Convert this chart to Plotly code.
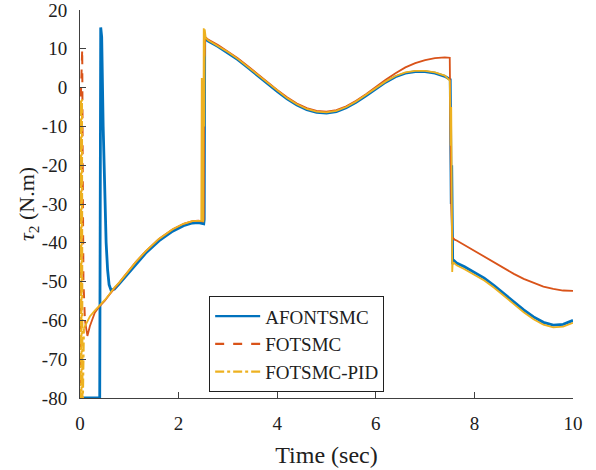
import plotly.graph_objects as go

# ---------------- data ----------------
t_afontsmc = [0, 0.40, 0.42, 0.44, 0.47, 0.50, 0.53, 0.56, 0.59, 0.63,
              0.70, 0.80, 0.90, 1.00, 1.13, 1.33, 1.60, 1.88, 2.10, 2.28, 2.40,
              2.49, 2.51, 2.52, 2.53, 2.56, 2.60, 2.80, 3.00, 3.20, 3.40, 3.60,
              3.80, 4.00, 4.20, 4.40, 4.60, 4.80, 5.00, 5.20, 5.40, 5.60,
              5.80, 6.00, 6.20, 6.40, 6.60, 6.80, 7.00, 7.20, 7.40, 7.51,
              7.53, 7.54, 7.55, 7.56, 7.58, 7.64, 7.80, 8.00, 8.20, 8.40,
              8.60, 8.80, 9.00, 9.20, 9.40, 9.60, 9.80, 10.0]
y_afontsmc = [-80, -80, 15.5, 13, -10, -30, -40, -47, -50.8, -52.2,
              -51.9, -50.5, -49.0, -47.5, -45.5, -42.7, -39.5, -37.0, -35.6, -34.9, -34.8,
              -35.0, -35.1, -34, 13, 12.4, 12.0, 10.6, 9.0, 7.2, 5.2, 3.1,
              1.0, -1.0, -2.9, -4.5, -5.7, -6.4, -6.6, -6.2, -5.2, -3.8,
              -2.1, -0.3, 1.4, 2.8, 3.7, 4.1, 4.1, 3.7, 2.9, 2.1,
              -30, -20, -44, -45.5, -44.5, -45.2, -46.2, -47.6, -49.1, -51.0,
              -53.0, -55.2, -57.3, -59.1, -60.5, -61.2, -61.0, -60.0]

t_fotsmc = [0, 0.005, 0.015, 0.02, 0.03, 0.045, 0.055, 0.07, 0.10, 0.15,
            0.20, 0.25, 0.30, 0.40, 0.50, 0.60, 0.70, 0.80, 0.90, 1.00, 1.13,
            1.33, 1.60, 1.88, 2.10, 2.28, 2.40, 2.49, 2.51, 2.52, 2.53,
            2.54, 2.57, 2.60, 2.80, 3.00, 3.20, 3.40, 3.60, 3.80, 4.00,
            4.20, 4.40, 4.60, 4.80, 5.00, 5.20, 5.40, 5.60, 5.80, 6.00,
            6.20, 6.40, 6.60, 6.80, 7.00, 7.20, 7.40, 7.50, 7.51, 7.52,
            7.53, 7.55, 7.57, 7.60, 7.64, 7.80, 8.00, 8.20, 8.40, 8.60,
            8.80, 9.00, 9.20, 9.40, 9.60, 9.80, 10.0]
y_fotsmc = [0, -80, -80, -1, 10, 10, -20, -50, -60, -64,
            -61.5, -59.5, -58, -56.3, -55, -53.3, -51.6, -50.2, -48.6, -47.0, -45.0,
            -42.2, -39.0, -36.5, -35.1, -34.4, -34.3, -34.5, -34, 14, 8,
            13, 12.6, 12.4, 11.0, 9.4, 7.6, 5.6, 3.5, 1.4, -0.6,
            -2.5, -4.1, -5.3, -6.0, -6.2, -5.8, -4.8, -3.4, -1.7, 0.2,
            2.0, 3.7, 5.2, 6.3, 7.1, 7.6, 7.8, 7.7, -15, -5,
            -30, -38.5, -38.8, -39.2, -39.4, -40.6, -42.0, -43.5, -45.0, -46.6,
            -48.0, -49.3, -50.4, -51.3, -51.9, -52.3, -52.4]

t_pid = [0, 0.005, 0.012, 0.02, 0.03, 0.04, 0.05, 0.06, 0.08, 0.20,
         0.30, 0.40, 0.50, 0.60, 0.70, 0.80, 0.90, 1.00, 1.13, 1.33, 1.60,
         1.88, 2.10, 2.28, 2.40, 2.46, 2.47, 2.48, 2.50, 2.51, 2.52,
         2.53, 2.55, 2.60, 2.80, 3.00, 3.20, 3.40, 3.60, 3.80, 4.00,
         4.20, 4.40, 4.60, 4.80, 5.00, 5.20, 5.40, 5.60, 5.80, 6.00,
         6.20, 6.40, 6.60, 6.80, 7.00, 7.20, 7.40, 7.50, 7.52, 7.53,
         7.55, 7.56, 7.58, 7.64, 7.80, 8.00, 8.20, 8.40, 8.60, 8.80,
         9.00, 9.20, 9.40, 9.60, 9.80, 10.0]
y_pid = [-80, -3, -80, -3, -80, -3, -80, -80, -62, -59,
         -57.5, -56.2, -54.8, -53.2, -51.5, -50.2, -48.6, -47.0, -45.0, -42.2, -39.0,
         -36.5, -35.1, -34.4, -34.3, -34.3, 2.5, -34.3, -34.4, 15.3, -10,
         15, 12.8, 12.2, 10.8, 9.2, 7.4, 5.4, 3.3, 1.2, -0.8,
         -2.7, -4.3, -5.5, -6.2, -6.4, -6.0, -5.0, -3.6, -1.9, -0.1,
         1.6, 3.0, 3.9, 4.3, 4.3, 3.9, 3.1, 1.8, -15, -5,
         -47.5, -45, -45.1, -45.8, -46.8, -48.2, -49.7, -51.6, -53.6, -55.8,
         -57.9, -59.7, -61.1, -61.8, -61.6, -60.6]

names = ["AFONTSMC", "FOTSMC", "FOTSMC-PID"]
x_ticks = [0, 2, 4, 6, 8, 10]
y_ticks = [-80, -70, -60, -50, -40, -30, -20, -10, 0, 10, 20]

C_BLUE = "#0072BD"
C_ORANGE = "#D95319"
C_YELLOW = "#EDB120"
FONT = "Liberation Serif"
TXT = "#202020"

fig = go.Figure()

fig.add_trace(go.Scatter(x=t_afontsmc, y=y_afontsmc, mode="lines",
                         line=dict(color=C_BLUE, width=2.8), showlegend=False))
n_o = 9
fig.add_trace(go.Scatter(x=t_fotsmc[:n_o], y=y_fotsmc[:n_o], mode="lines",
                         line=dict(color=C_ORANGE, width=2, dash="dash"), showlegend=False))
fig.add_trace(go.Scatter(x=t_fotsmc[n_o - 1:], y=y_fotsmc[n_o - 1:], mode="lines",
                         line=dict(color=C_ORANGE, width=1.8), showlegend=False))
n_y = 9
fig.add_trace(go.Scatter(x=t_pid[:n_y], y=y_pid[:n_y], mode="lines",
                         line=dict(color=C_YELLOW, width=2, dash="dashdot"), showlegend=False))
fig.add_trace(go.Scatter(x=t_pid[n_y - 1:], y=y_pid[n_y - 1:], mode="lines",
                         line=dict(color=C_YELLOW, width=1.8), showlegend=False))

for nm, col, dsh in zip(names, [C_BLUE, C_ORANGE, C_YELLOW], ["solid", "dash", "dashdot"]):
    fig.add_trace(go.Scatter(x=[None], y=[None], mode="lines", name=nm,
                             line=dict(color=col, width=2.2, dash=dsh)))

axis_common = dict(showgrid=False, zeroline=False, showline=True, linecolor="#404040",
                   linewidth=1, ticks="inside", ticklen=6, tickcolor="#404040",
                   mirror=False, ticklabeloverflow="allow", ticklabelstandoff=8,
                   automargin=False,
                   tickfont=dict(family=FONT, size=19, color=TXT))

fig.update_xaxes(range=[0, 10], tickvals=x_ticks, ticktext=[str(v) for v in x_ticks],
                 title=dict(text="Time (sec)", font=dict(family=FONT, size=24, color=TXT),
                            standoff=13),
                 **axis_common)
fig.update_yaxes(range=[-80, 20], tickvals=y_ticks, ticktext=[str(v) for v in y_ticks],
                 title=dict(text="<i>τ</i><sub>2</sub> (N.m)",
                            font=dict(family=FONT, size=22, color=TXT), standoff=0),
                 **axis_common)

fig.update_layout(
    width=596, height=470,
    margin=dict(l=80, r=23, t=10, b=72),
    paper_bgcolor="white", plot_bgcolor="white",
    legend=dict(x=0.262, y=0.262, xanchor="left", yanchor="top",
                bgcolor="white", bordercolor="#202020", borderwidth=1,
                font=dict(family=FONT, size=19, color=TXT),
                itemwidth=45, tracegroupgap=0),
)

fig.write_html("out.html")
